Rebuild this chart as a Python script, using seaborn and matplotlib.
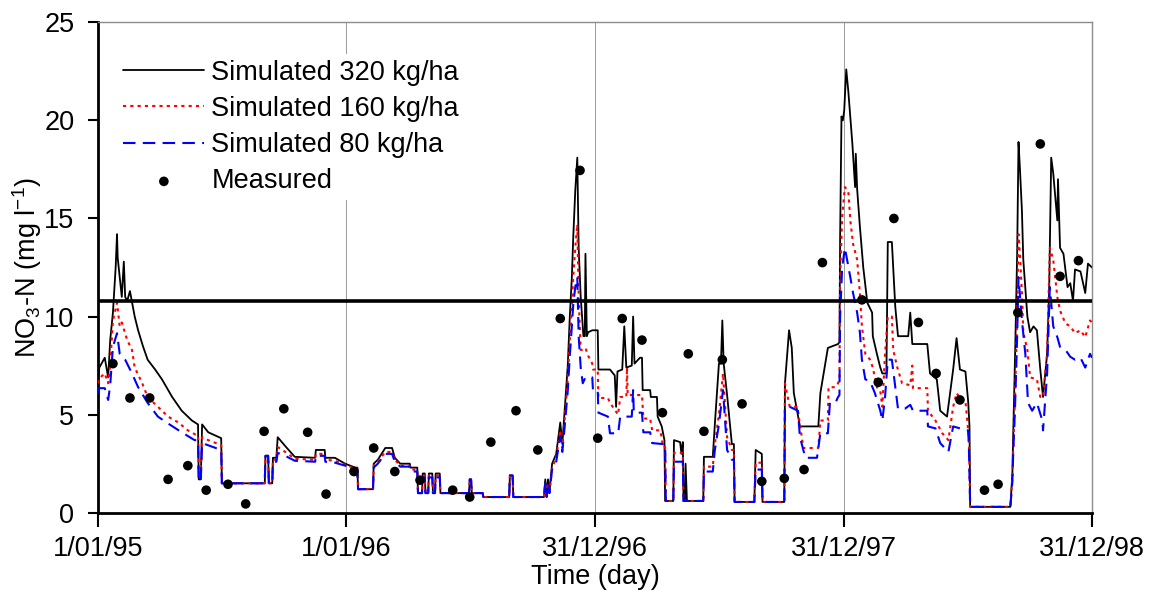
import matplotlib
matplotlib.use("Agg")
import matplotlib.pyplot as plt
import seaborn as sns
import numpy as np

# ---------------- data (day since 1/01/95, NO3-N mg/l) ----------------
tick_days = [0, 365, 730, 1095, 1460]
tick_labels = ["1/01/95", "1/01/96", "31/12/96", "31/12/97", "31/12/98"]
limit_value = 10.8

sim320_day = [0, 2, 10, 15, 18, 22, 26, 28, 29, 32, 35, 38, 40, 43, 47, 54, 59, 66, 73, 84, 94, 109, 123, 138, 147,
              148, 151, 153, 162, 181, 182, 245, 246, 250, 251, 256, 257, 262, 264, 275, 289, 319, 320, 333, 334, 348,
              363, 378, 381, 382, 404, 405, 411, 422, 432, 436, 444, 458, 459, 469, 470, 476, 477, 480, 481, 485, 486,
              491, 492, 495, 496, 502, 503, 545, 546, 548, 549, 565, 566, 604, 605, 609, 610, 655, 657, 659, 661, 663,
              667, 673, 679, 682, 686, 690, 693, 696, 698, 701, 704, 706, 709, 713, 715, 716, 718, 720, 726, 734, 735,
              752, 759, 761, 763, 770, 773, 776, 784, 786, 788, 796, 799, 800, 811, 812, 821, 822, 828, 832, 833, 845,
              846, 855, 857, 859, 860, 862, 863, 865, 889, 890, 903, 906, 912, 915, 917, 919, 924, 931, 934, 935, 964,
              966, 975, 976, 1008, 1009, 1015, 1019, 1022, 1031, 1058, 1061, 1072, 1087, 1089, 1090, 1092, 1094, 1096,
              1099, 1102, 1108, 1112, 1113, 1115, 1119, 1124, 1130, 1137, 1138, 1144, 1149, 1152, 1158, 1160, 1166,
              1171, 1175, 1190, 1193, 1196, 1218, 1222, 1232, 1237, 1247, 1256, 1261, 1266, 1274, 1278, 1280, 1281,
              1340, 1343, 1344, 1347, 1350, 1352, 1354, 1357, 1359, 1365, 1369, 1374, 1379, 1384, 1388, 1394, 1397,
              1400, 1403, 1409, 1410, 1413, 1418, 1424, 1428, 1432, 1435, 1443, 1450, 1454, 1460]
sim320_val = [6.6, 7.4, 7.9, 6.9, 8.8, 10.2, 12.5, 14.2, 13.0, 12.0, 11.0, 12.8, 11.0, 10.8, 11.3, 10.0, 9.3, 8.5, 7.8,
              7.3, 6.8, 5.9, 5.2, 4.7, 4.5, 1.7, 1.7, 4.5, 4.1, 3.8, 1.5, 1.5, 2.9, 2.9, 1.5, 1.5, 2.8, 2.8, 3.85, 3.4,
              2.85, 2.8, 3.2, 3.2, 2.8, 2.8, 2.5, 2.3, 2.3, 1.2, 1.2, 2.5, 2.7, 3.3, 3.3, 2.8, 2.5, 2.5, 2.3, 2.3, 1.0,
              1.0, 2.0, 2.0, 1.0, 1.0, 2.0, 2.0, 1.0, 1.0, 2.0, 2.0, 1.0, 1.0, 1.7, 1.7, 1.0, 1.0, 0.8, 0.8, 1.9, 1.9,
              0.8, 0.8, 1.7, 0.8, 1.7, 1.0, 2.5, 3.0, 4.6, 3.5, 5.5, 7.5, 10.0, 12.0, 14.0, 16.4, 18.1, 13.5, 11.0, 9.0,
              9.0, 13.2, 9.0, 9.2, 9.3, 9.3, 7.3, 7.3, 7.0, 5.4, 7.2, 7.3, 9.5, 7.4, 7.5, 10.0, 7.6, 7.9, 7.9, 6.25,
              6.25, 5.9, 5.9, 4.9, 4.4, 3.7, 0.6, 0.6, 3.7, 3.6, 3.0, 3.6, 0.6, 0.6, 2.5, 0.6, 0.6, 2.85, 2.85, 4.5,
              7.6, 7.6, 9.8, 7.6, 6.0, 3.5, 3.5, 0.55, 0.55, 3.2, 3.0, 0.55, 0.55, 6.6, 9.3, 8.4, 6.1, 4.4, 4.4, 6.1,
              8.4, 8.6, 8.7, 14.0, 20.2, 20.0, 20.5, 22.6, 21.5, 18.8, 16.6, 18.3, 16.5, 14.6, 12.5, 10.7, 10.2, 9.0,
              8.1, 7.4, 7.1, 7.1, 13.8, 13.8, 10.5, 9.0, 9.0, 10.2, 8.6, 8.6, 7.1, 6.8, 5.2, 4.9, 7.3, 8.9, 7.3, 7.2,
              5.7, 4.4, 0.3, 0.3, 2.0, 3.7, 8.1, 13.2, 18.9, 17.6, 15.4, 12.9, 10.0, 9.2, 9.5, 9.3, 7.3, 5.9, 8.1,
              11.3, 18.1, 17.3, 14.9, 17.0, 13.5, 13.2, 11.5, 11.7, 10.8, 12.4, 12.3, 11.2, 12.7, 12.5]

sim160_day = [0, 2, 10, 15, 18, 22, 28, 32, 35, 43, 50, 54, 65, 73, 88, 103, 118, 132, 145, 147, 148, 151, 153, 162,
              181, 182, 245, 246, 250, 251, 256, 257, 262, 264, 275, 289, 319, 320, 333, 334, 348, 363, 378, 381, 382,
              404, 405, 411, 422, 432, 436, 444, 458, 459, 469, 470, 476, 477, 480, 481, 485, 486, 491, 492, 495, 496,
              502, 503, 545, 546, 548, 549, 565, 566, 604, 605, 609, 610, 655, 657, 659, 661, 663, 667, 673, 679, 682,
              686, 690, 693, 696, 698, 701, 704, 706, 709, 712, 716, 720, 726, 727, 734, 735, 749, 752, 764, 767, 776,
              777, 778, 799, 801, 811, 814, 826, 830, 833, 834, 845, 846, 859, 860, 889, 890, 903, 906, 912, 918, 924,
              931, 934, 935, 964, 966, 975, 976, 1008, 1009, 1016, 1027, 1031, 1036, 1058, 1061, 1072, 1073, 1083,
              1087, 1089, 1090, 1093, 1097, 1102, 1105, 1109, 1115, 1119, 1122, 1127, 1134, 1138, 1144, 1149, 1152,
              1156, 1160, 1166, 1168, 1174, 1181, 1193, 1196, 1197, 1218, 1219, 1230, 1240, 1249, 1256, 1261, 1269,
              1274, 1279, 1281, 1340, 1343, 1344, 1347, 1350, 1352, 1354, 1357, 1359, 1365, 1369, 1379, 1384, 1388,
              1394, 1398, 1403, 1409, 1413, 1421, 1428, 1435, 1443, 1450, 1457, 1460]
sim160_val = [6.6, 6.85, 7.1, 6.6, 7.5, 9.8, 10.7, 9.5, 9.7, 8.8, 8.3, 7.4, 6.6, 5.9, 5.4, 4.9, 4.6, 4.2, 3.95, 3.95,
              2.0, 2.0, 3.85, 3.7, 3.45, 1.5, 1.5, 2.9, 2.9, 1.5, 1.5, 2.7, 2.7, 3.35, 3.1, 2.75, 2.7, 3.0, 3.0, 2.7,
              2.65, 2.45, 2.25, 2.25, 1.2, 1.2, 2.4, 2.6, 3.1, 3.1, 2.7, 2.4, 2.4, 2.2, 2.2, 1.0, 1.0, 1.9, 1.9, 1.0,
              1.0, 1.9, 1.9, 1.0, 1.0, 1.9, 1.9, 1.0, 1.0, 1.7, 1.7, 1.0, 1.0, 0.8, 0.8, 1.9, 1.9, 0.8, 0.8, 1.5, 0.8,
              1.5, 1.0, 2.3, 2.8, 4.2, 3.3, 5.0, 6.8, 8.8, 10.5, 12.0, 13.5, 14.7, 11.0, 8.3, 8.3, 8.4, 8.0, 7.6, 7.3,
              7.3, 5.85, 5.85, 5.6, 5.0, 5.9, 5.9, 7.4, 6.0, 6.0, 4.8, 4.8, 4.2, 4.2, 3.35, 3.35, 0.6, 0.6, 3.05,
              3.05, 0.6, 0.6, 2.35, 2.35, 3.5, 5.0, 7.1, 3.85, 3.2, 3.2, 0.55, 0.55, 2.55, 2.55, 0.55, 0.55, 6.6,
              5.4, 5.4, 4.5, 3.3, 3.3, 4.7, 4.7, 6.4, 6.4, 6.6, 6.8, 12.0, 15.1, 16.6, 16.4, 14.9, 13.7, 12.9, 11.2,
              9.5, 8.1, 7.8, 7.4, 6.4, 6.2, 5.4, 8.1, 10.0, 10.0, 8.3, 7.4, 6.6, 6.5, 7.5, 6.35, 6.35, 5.2, 4.7,
              4.05, 3.7, 5.4, 6.1, 5.7, 5.7, 3.85, 0.3, 0.3, 1.8, 3.0, 6.0, 10.0, 14.2, 13.2, 11.2, 9.2, 8.3, 6.9,
              6.8, 5.9, 5.9, 8.1, 13.5, 12.9, 11.0, 10.3, 9.65, 9.5, 9.15, 9.3, 8.95, 9.8, 9.7]

sim80_day = [0, 2, 10, 15, 18, 22, 28, 32, 40, 50, 59, 73, 88, 103, 123, 142, 147, 148, 151, 153, 181, 182, 245, 246,
             250, 251, 256, 257, 262, 264, 275, 289, 319, 320, 333, 334, 348, 363, 378, 381, 382, 404, 405, 411, 422,
             432, 436, 444, 458, 459, 469, 470, 476, 477, 480, 481, 485, 486, 491, 492, 495, 496, 502, 503, 545, 546,
             548, 549, 565, 566, 604, 605, 609, 610, 655, 657, 659, 661, 663, 667, 673, 679, 682, 686, 690, 693, 696,
             698, 701, 704, 706, 709, 712, 716, 726, 727, 734, 735, 749, 752, 764, 767, 784, 786, 787, 799, 801, 811,
             814, 830, 833, 834, 845, 846, 859, 860, 889, 890, 903, 906, 912, 918, 924, 931, 934, 935, 964, 966, 975,
             976, 1008, 1009, 1016, 1028, 1031, 1039, 1056, 1061, 1072, 1075, 1083, 1087, 1089, 1090, 1093, 1097,
             1105, 1109, 1115, 1119, 1122, 1127, 1134, 1141, 1149, 1152, 1156, 1160, 1166, 1171, 1175, 1185, 1193,
             1197, 1218, 1219, 1230, 1237, 1249, 1256, 1266, 1274, 1278, 1279, 1281, 1340, 1343, 1344, 1347, 1350,
             1352, 1357, 1362, 1366, 1372, 1379, 1387, 1388, 1394, 1398, 1403, 1409, 1413, 1421, 1428, 1435, 1443,
             1450, 1457, 1460]
sim80_val = [6.1, 6.35, 6.35, 5.75, 6.5, 8.45, 9.15, 8.1, 7.8, 7.1, 6.4, 5.6, 4.9, 4.55, 4.1, 3.7, 3.7, 1.6, 1.6,
             3.55, 3.2, 1.5, 1.5, 2.9, 2.9, 1.5, 1.5, 2.6, 2.6, 3.05, 2.9, 2.65, 2.6, 2.9, 2.9, 2.6, 2.55, 2.4, 2.2,
             2.2, 1.2, 1.2, 2.3, 2.5, 3.0, 3.0, 2.6, 2.35, 2.35, 2.1, 2.1, 1.0, 1.0, 1.8, 1.8, 1.0, 1.0, 1.8, 1.8,
             1.0, 1.0, 1.8, 1.8, 1.0, 1.0, 1.7, 1.7, 1.0, 1.0, 0.8, 0.8, 1.9, 1.9, 0.8, 0.8, 1.5, 0.8, 1.5, 1.0, 2.2,
             2.6, 3.9, 3.1, 4.6, 6.2, 8.0, 9.5, 10.6, 11.5, 12.0, 9.0, 7.4, 6.6, 6.9, 6.9, 6.25, 6.25, 5.1, 4.9,
             4.05, 4.05, 4.9, 4.9, 6.25, 5.1, 5.1, 4.1, 4.1, 3.55, 3.5, 3.5, 0.6, 0.6, 2.6, 2.6, 0.6, 0.6, 2.1, 2.1,
             3.2, 4.5, 6.25, 3.2, 2.7, 2.7, 0.55, 0.55, 2.2, 2.2, 0.55, 0.55, 5.4, 5.4, 5.2, 3.85, 2.8, 2.8, 4.05,
             4.05, 5.6, 5.6, 5.9, 6.0, 10.0, 12.5, 13.5, 12.0, 11.2, 10.2, 9.2, 7.8, 6.8, 6.7, 6.1, 5.2, 4.7, 5.9,
             7.8, 7.8, 6.4, 5.3, 5.3, 5.5, 5.2, 5.2, 4.4, 4.3, 3.55, 3.1, 4.4, 4.3, 4.2, 4.2, 3.5, 0.3, 0.3, 1.6,
             2.8, 5.5, 9.0, 12.0, 9.8, 8.1, 5.6, 5.2, 5.6, 4.7, 4.2, 7.1, 11.5, 9.5, 8.95, 8.45, 8.3, 7.95, 7.8, 7.9,
             7.4, 8.1, 7.9]

meas_day = [22, 47, 76, 103, 132, 159, 191, 217, 244, 273, 308, 335, 376, 405, 436, 473, 521, 546, 577, 614, 646,
            679, 708, 734, 770, 799, 829, 867, 890, 917, 946, 975, 1008, 1037, 1064, 1122, 1146, 1169, 1205, 1231,
            1266, 1302, 1322, 1351, 1384, 1413, 1440]
meas_val = [7.6, 5.85, 5.85, 1.7, 2.4, 1.15, 1.45, 0.45, 4.15, 5.3, 4.1, 0.95, 2.1, 3.3, 2.1, 1.66, 1.15, 0.8, 3.6,
            5.2, 3.2, 9.9, 17.45, 3.8, 9.9, 8.8, 5.1, 8.1, 4.15, 7.8, 5.55, 1.6, 1.75, 2.2, 12.75, 10.85, 6.65, 15.0,
            9.7, 7.1, 5.75, 1.15, 1.45, 10.2, 18.8, 12.05, 12.85]

# ---------------- style ----------------
sns.set_theme(style="white")
plt.rcParams["font.family"] = ["Liberation Sans", "DejaVu Sans"]
plt.rcParams["mathtext.fontset"] = "custom"
plt.rcParams["mathtext.rm"] = "Liberation Sans"
plt.rcParams["mathtext.it"] = "Liberation Sans"
plt.rcParams["text.color"] = "black"
plt.rcParams["axes.labelcolor"] = "black"
plt.rcParams["xtick.color"] = "black"
plt.rcParams["ytick.color"] = "black"

FS = 19.5

fig = plt.figure(figsize=(11.55, 5.98), dpi=100)
ax = fig.add_axes([0.0848, 0.1426, 0.8607, 0.8201])

for d in tick_days[1:-1]:
    ax.axvline(d, color="#9a9a9a", lw=0.7, zorder=0)

sns.lineplot(x=sim320_day, y=sim320_val, ax=ax, sort=False, estimator=None, errorbar=None,
             color="black", lw=1.3, label="Simulated 320 kg/ha", zorder=2)
sns.lineplot(x=sim160_day, y=sim160_val, ax=ax, sort=False, estimator=None, errorbar=None,
             color="#ff0000", lw=1.5, label="Simulated 160 kg/ha", zorder=3)
sns.lineplot(x=sim80_day, y=sim80_val, ax=ax, sort=False, estimator=None, errorbar=None,
             color="#0000ff", lw=1.5, label="Simulated 80 kg/ha", zorder=4)
lines = ax.get_lines()
lines[-2].set_dashes((1.5, 2.0))
lines[-1].set_dashes((6.0, 3.5))

sns.scatterplot(x=meas_day, y=meas_val, ax=ax, color="black", s=48, edgecolor="none",
                label="Measured", zorder=6)

ax.axhline(limit_value, color="black", lw=2.6, zorder=5)

ax.set_xlim(0, 1460)
ax.set_ylim(0, 25)
ax.set_xticks(tick_days)
ax.set_xticklabels(tick_labels)
ax.set_yticks([0, 5, 10, 15, 20, 25])

ax.tick_params(axis="x", direction="out", length=10, width=1.5, color="black", pad=7,
               labelsize=FS, bottom=True, labelcolor="black")
ax.tick_params(axis="y", direction="out", length=7, width=1.5, color="black", pad=10,
               labelsize=FS, left=True, labelcolor="black")

for side in ["top", "right"]:
    ax.spines[side].set_color("#8c8c8c")
    ax.spines[side].set_linewidth(1.0)
for side in ["left", "bottom"]:
    ax.spines[side].set_color("black")
    ax.spines[side].set_linewidth(2.0)

ax.set_xlabel("Time (day)", fontsize=FS, labelpad=1, color="black")
ax.set_ylabel(r"NO$_\mathregular{3}$-N (mg l$^\mathregular{-1}$)", fontsize=FS, color="black")
ax.yaxis.set_label_coords(-0.054, 0.5)

leg = ax.legend(loc="upper left", bbox_to_anchor=(0.02, 0.935), fontsize=FS, frameon=True,
                framealpha=1.0, facecolor="white", edgecolor="none", fancybox=False,
                handlelength=3.0, handletextpad=0.25, labelspacing=0.38, borderpad=0.2,
                borderaxespad=0.0)
for t in leg.get_texts():
    t.set_color("black")
leg.set_zorder(10)

fig.savefig("out.png", dpi=100)
